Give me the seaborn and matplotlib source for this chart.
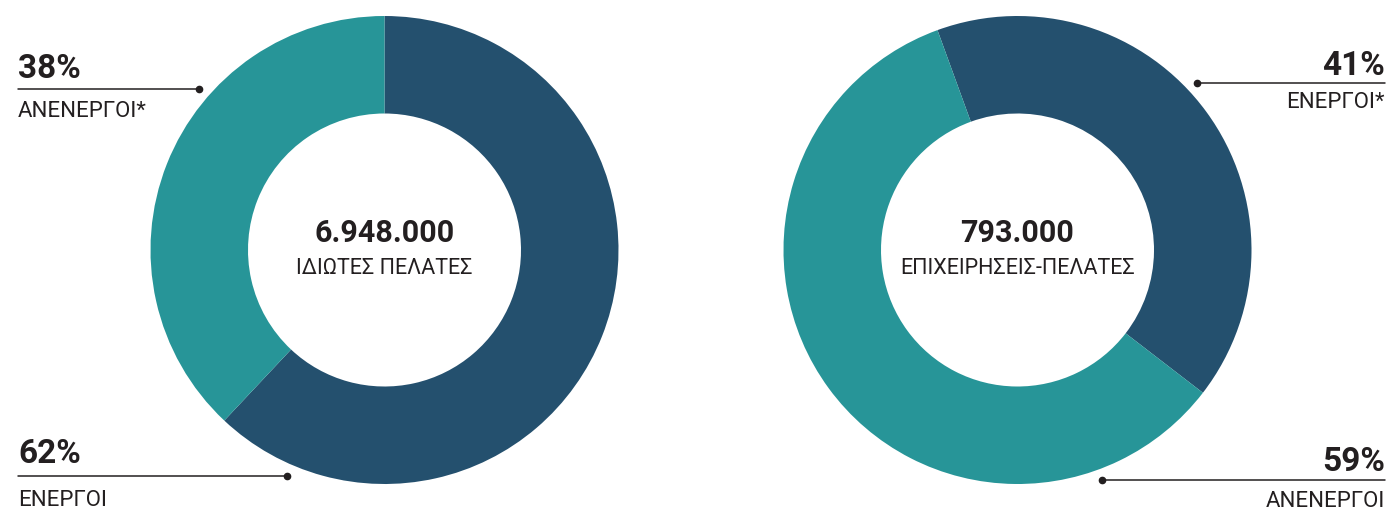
import matplotlib
matplotlib.use('Agg')
from matplotlib import pyplot as plt
import seaborn as sns

# data
groups = ['ΙΔΙΩΤΕΣ ΠΕΛΑΤΕΣ', 'ΕΠΙΧΕΙΡΗΣΕΙΣ-ΠΕΛΑΤΕΣ']
totals = ['6.948.000', '793.000']
left_labels = ['ΕΝΕΡΓΟΙ', 'ΑΝΕΝΕΡΓΟΙ*']
left_values = [62, 38]
right_labels = ['ΕΝΕΡΓΟΙ*', 'ΑΝΕΝΕΡΓΟΙ']
right_values = [41, 59]

dark = '#24506e'
teal = '#279598'
ink = '#231f20'

sns.set_theme(style='white')
plt.rcParams['font.family'] = ['Roboto', 'DejaVu Sans']

W, H = 1392, 510
fig = plt.figure(figsize=(W / 100, H / 100), dpi=100)
ax = fig.add_axes([0, 0, 1, 1])


def Y(y):
    return H - y


R = 234
width = 234 - 136.5

ax.pie(left_values, colors=[dark, teal], startangle=90, counterclock=False,
       center=(384.5, Y(251)), radius=R,
       wedgeprops=dict(width=width, linewidth=0))
ax.pie(right_values, colors=[dark, teal], startangle=110, counterclock=False,
       center=(1017.5, Y(251)), radius=R,
       wedgeprops=dict(width=width, linewidth=0))

# centre texts
for cx, tot, grp in [(384.5, totals[0], groups[0]), (1017.5, totals[1], groups[1])]:
    ax.text(cx, Y(242), tot, ha='center', va='baseline', fontsize=22,
            fontweight='bold', color=ink)
    ax.text(cx, Y(274), grp, ha='center', va='baseline', fontsize=15.5,
            color=ink)


def callout(x0, x1, y_line, dot_x, y_pct, y_lab, pct, lab, ha):
    ax.plot([x0, x1], [Y(y_line), Y(y_line)], color=ink, lw=1.1)
    ax.plot([dot_x], [Y(y_line)], 'o', color=ink, ms=4.5)
    tx = x0 if ha == 'left' else x1
    ax.text(tx, Y(y_pct), f'{pct}%', ha=ha, va='baseline', fontsize=24,
            fontweight='bold', color=ink)
    ax.text(tx, Y(y_lab), lab, ha=ha, va='baseline', fontsize=16, color=ink)


callout(18, 199, 90, 199, 78, 117, left_values[1], left_labels[1], 'left')
callout(18, 287, 476.5, 287, 463, 506.5, left_values[0], left_labels[0], 'left')
callout(1197, 1385, 83.5, 1197, 75, 108, right_values[0], right_labels[0], 'right')
callout(1102, 1385, 480.5, 1102, 471.5, 507.5, right_values[1], right_labels[1], 'right')

ax.set_xlim(0, W)
ax.set_ylim(0, H)
ax.set_aspect('auto')
ax.axis('off')

plt.savefig('out.png', dpi=100)
